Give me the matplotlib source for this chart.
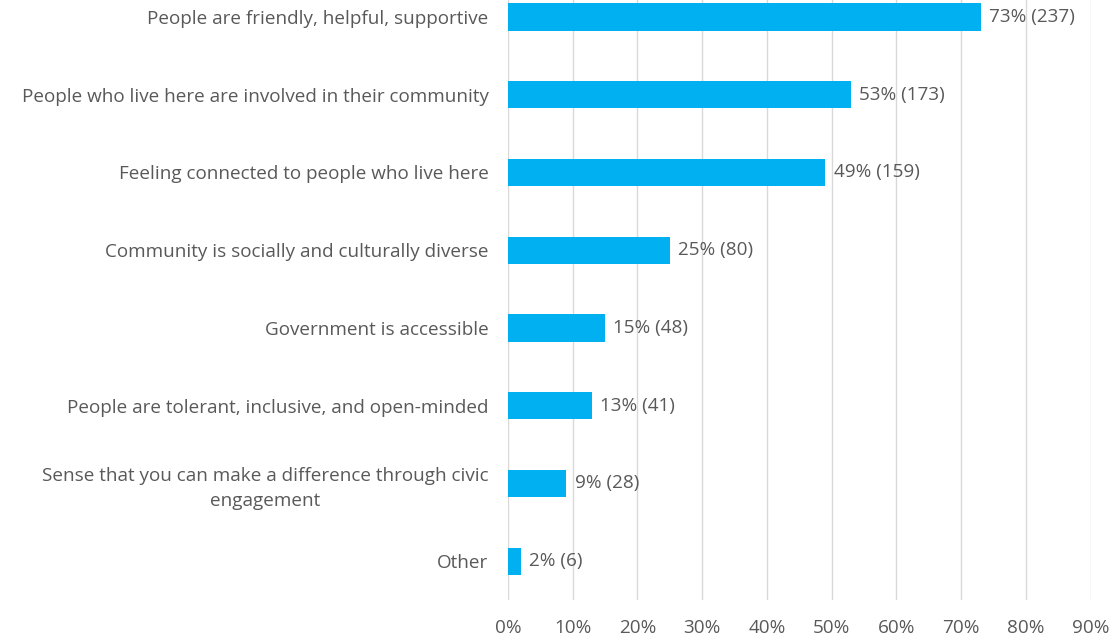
import matplotlib
matplotlib.use("Agg")
import matplotlib.pyplot as plt

# survey answers, top to bottom
categories = [
    "People are friendly, helpful, supportive",
    "People who live here are involved in their community",
    "Feeling connected to people who live here",
    "Community is socially and culturally diverse",
    "Government is accessible",
    "People are tolerant, inclusive, and open-minded",
    "Sense that you can make a difference through civic\nengagement",
    "Other",
]
percents = [73, 53, 49, 25, 15, 13, 9, 2]
counts = [237, 173, 159, 80, 48, 41, 28, 6]
ticks = [0, 10, 20, 30, 40, 50, 60, 70, 80, 90]

plt.rcParams['font.family'] = ['Open Sans', 'DejaVu Sans']
text_col = '#595959'
fsize = 13.6

fig = plt.figure(figsize=(11.13, 6.42), dpi=100)
ax = fig.add_axes([0.4564, 0.0654, 0.5236, 0.9686])

ypos = list(range(len(categories)))
ax.barh(ypos, percents, height=0.35, color='#00b0f0', zorder=3)

for y, p, n in zip(ypos, percents, counts):
    ax.annotate(f"{p}% ({n})", xy=(p, y), xytext=(6, 0), textcoords='offset points',
                va='center', ha='left', fontsize=fsize, color=text_col)

ax.set_yticks(ypos)
ax.set_yticklabels(categories)
for lab in ax.get_yticklabels():
    lab.set_multialignment('center')
    lab.set_linespacing(1.45)
ax.set_ylim(len(categories) - 0.5, -0.5)

ax.set_xlim(0, 90)
ax.set_xticks(ticks)
ax.set_xticklabels([f"{t}%" for t in ticks])

ax.tick_params(axis='y', length=0, pad=14, labelsize=fsize, labelcolor=text_col)
ax.tick_params(axis='x', length=0, pad=14, labelsize=fsize, labelcolor=text_col)

ax.grid(axis='x', color='#d9d9d9', linewidth=1, zorder=0)
ax.grid(axis='y', visible=False)
for s in ax.spines.values():
    s.set_visible(False)

fig.savefig("out.png", dpi=100)
